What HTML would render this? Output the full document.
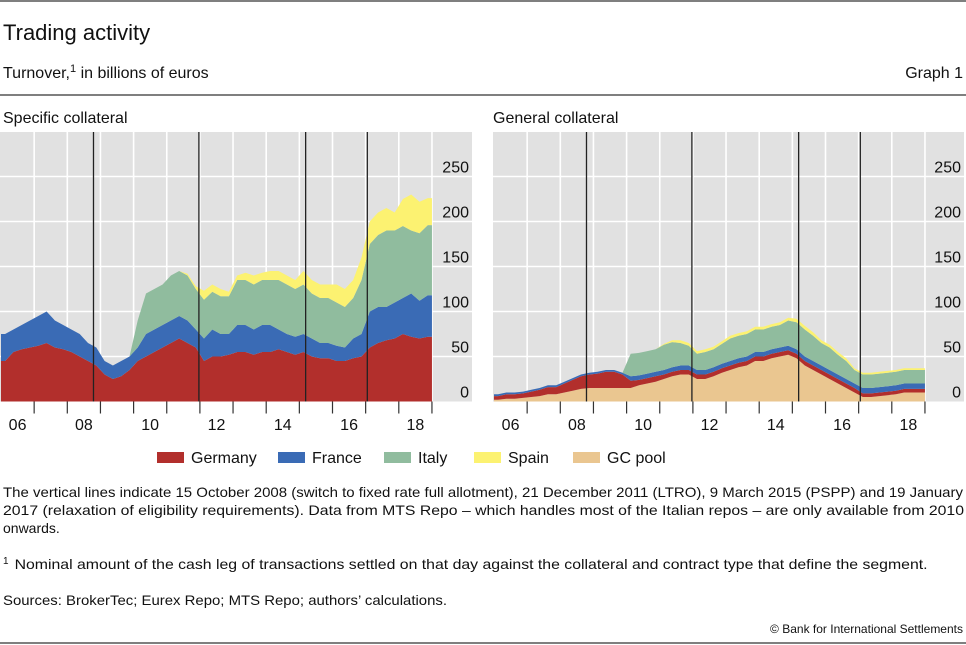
<!DOCTYPE html>
<html><head><meta charset="utf-8"><style>
body{margin:0;background:#fff;}
svg{display:block;font-family:"Liberation Sans",sans-serif;}
</style></head><body>
<svg id="page" width="966" height="645" viewBox="0 0 966 645" xmlns="http://www.w3.org/2000/svg">
<line x1="0" y1="1" x2="966" y2="1" stroke="#333" stroke-width="1.2"/>
<text x="3" y="40" font-size="22" fill="#111">Trading activity</text>
<text x="3" y="78" font-size="16" fill="#111">Turnover,<tspan font-size="11" dy="-6">1</tspan><tspan dy="6"> in billions of euros</tspan></text>
<text x="963" y="78" font-size="16" fill="#111" text-anchor="end">Graph 1</text>
<line x1="0" y1="95" x2="966" y2="95" stroke="#333" stroke-width="1.2"/>
<text x="3" y="123" font-size="16" fill="#111">Specific collateral</text>
<text x="493" y="123" font-size="16" fill="#111">General collateral</text>
<g id="left"></g>
<g id="right"></g>
<g id="legend"></g>
<text x="3" y="497" font-size="14" fill="#111" textLength="960" lengthAdjust="spacingAndGlyphs">The vertical lines indicate 15 October 2008 (switch to fixed rate full allotment), 21 December 2011 (LTRO), 9 March 2015 (PSPP) and 19 January</text>
<text x="3" y="515" font-size="14" fill="#111" textLength="961" lengthAdjust="spacingAndGlyphs">2017 (relaxation of eligibility requirements). Data from MTS Repo – which handles most of the Italian repos – are only available from 2010</text>
<text x="3" y="533" font-size="14" fill="#111">onwards.</text>
<text x="3" y="569" font-size="14" fill="#111"><tspan font-size="10" dy="-5">1</tspan><tspan dx="6" dy="5" textLength="913" lengthAdjust="spacingAndGlyphs">Nominal amount of the cash leg of transactions settled on that day against the collateral and contract type that define the segment.</tspan></text>
<text x="3" y="605" font-size="14" fill="#111" textLength="444" lengthAdjust="spacingAndGlyphs">Sources: BrokerTec; Eurex Repo; MTS Repo; authors’ calculations.</text>
<text x="963" y="633" font-size="12" fill="#111" text-anchor="end">© Bank for International Settlements</text>
<line x1="0" y1="643" x2="966" y2="643" stroke="#333" stroke-width="1.2"/>
</svg>
<script>
// Quarterly values, 2006Q1..2018Q4 (52 points), billions of euros
const quarters = 52;
const yTicks = [0, 50, 100, 150, 200, 250];
const xTickLabels = ['06','08','10','12','14','16','18'];
const eventDates = [2008.79, 2011.97, 2015.19, 2017.05];

const scGermany = [45,55,58,60, 62,65,60,58, 55,50,45,40, 30,25,28,35, 45,50,55,60, 65,70,65,60, 45,50,50,52, 55,55,52,55, 55,58,55,52, 55,50,48,48, 45,45,48,50, 60,65,68,70, 75,72,70,72];
const scFrance  = [30,25,27,30, 33,35,30,27, 25,25,20,20, 15,15,17,15, 15,25,25,25, 25,25,25,20, 25,30,25,23, 30,30,28,30, 30,22,20,20, 20,20,17,17, 17,15,22,25, 40,40,37,40, 40,48,42,46];
const scItaly   = [0,0,0,0, 0,0,0,0, 0,0,0,0, 0,0,0,0, 30,45,45,45, 50,50,50,45, 43,42,42,42, 50,50,50,50, 50,55,55,53, 55,50,50,50, 48,45,45,60, 75,80,85,80, 80,70,75,78];
const scSpain   = [0,0,0,0, 0,0,0,0, 0,0,0,0, 0,0,0,0, 0,0,0,0, 0,0,2,3, 10,8,8,5, 5,8,10,8, 10,10,10,10, 15,15,15,15, 20,20,20,25, 25,25,25,20, 30,40,35,30];

const gcPool    = [2,3,3,4, 5,6,8,8, 10,12,14,15, 15,15,15,15, 15,18,20,22, 25,28,30,30, 25,25,28,32, 35,38,40,45, 45,48,50,52, 48,40,35,30, 25,20,15,10, 5,5,6,7, 8,10,10,10];
const gcGermany = [4,5,5,5, 6,7,8,8, 10,12,14,15, 16,18,18,15, 8,6,6,6, 5,5,5,5, 5,5,5,5, 5,5,5,5, 5,5,5,5, 5,5,5,5, 5,5,5,5, 4,4,4,4, 4,4,4,4];
const gcFrance  = [2,2,2,2, 2,2,2,2, 2,2,2,2, 2,2,2,2, 5,5,5,5, 5,5,5,5, 5,5,5,5, 5,5,5,5, 5,5,5,5, 5,5,5,5, 5,5,5,5, 6,6,6,6, 6,6,6,6];
const gcItaly   = [0,0,0,0, 0,0,0,0, 0,0,0,0, 0,0,0,0, 25,25,25,25, 28,28,25,22, 18,20,20,22, 25,25,25,25, 25,25,25,28, 30,30,28,25, 25,22,20,15, 15,15,15,15, 15,15,15,15];
const gcSpain   = [0,0,0,0, 0,0,0,0, 0,0,0,0, 0,0,0,0, 0,0,0,0, 1,2,3,3, 3,3,3,3, 3,3,3,3, 3,3,3,3, 4,4,4,3, 3,3,3,2, 2,2,2,2, 2,2,2,2];

const COLORS = {germany:'#b22f2c', france:'#3a6bb5', italy:'#90bc9e', spain:'#fcf271', gc:'#eac690'};
const NS = 'http://www.w3.org/2000/svg';
function mk(tag, attrs, parent){const e=document.createElementNS(NS,tag);for(const k in attrs)e.setAttribute(k,attrs[k]);parent.appendChild(e);return e;}

function drawPanel(g, x0, bgRight, series, prefix){
  const yZero = 401.5, per = 0.9; // px per billion
  const yS = v => yZero - v*per;
  const xS = t => x0 + (t-2006)*33.15;
  const top = 132;
  const bg = mk('rect',{x:x0-1,y:top,width:bgRight-(x0-1),height:yZero-top,fill:'#e1e1e1'},g);
  
  
  for(let y=2007;y<=2019;y++){
    const l=mk('line',{x1:xS(y),y1:top,x2:xS(y),y2:yZero,stroke:'#fff','stroke-width':1.6},g);
    
    
  }
  yTicks.forEach(v=>{
    if(v>0){
      const l=mk('line',{x1:x0-1,y1:yS(v),x2:bgRight,y2:yS(v),stroke:'#fff','stroke-width':1.6},g);
      
      
    }
    const t=mk('text',{x:bgRight-3,y:yS(v)-4,'font-size':16,'text-anchor':'end',fill:'#111'},g);
    t.textContent=v;
    
    
  });
  let base = new Array(quarters).fill(0);
  series.forEach(s=>{
    const topv = base.map((b,i)=>b+s.values[i]);
    const ts = i => 2006 + i/4 + 0.125;
    let d = 'M'+xS(2006)+','+yS(topv[0]);
    for(let i=0;i<quarters;i++) d+=' L'+xS(ts(i)).toFixed(1)+','+yS(topv[i]).toFixed(1);
    d+=' L'+xS(2019)+','+yS(topv[quarters-1]);
    d+=' L'+xS(2019)+','+yS(base[quarters-1]);
    for(let i=quarters-1;i>=0;i--) d+=' L'+xS(ts(i)).toFixed(1)+','+yS(base[i]).toFixed(1);
    d+=' L'+xS(2006)+','+yS(base[0])+' Z';
    const p=mk('path',{d:d,fill:s.color},g);
    
    
    base = topv;
  });
  eventDates.forEach(t=>{
    const l=mk('line',{x1:xS(t),y1:top,x2:xS(t),y2:yZero,stroke:'#222','stroke-width':1.3},g);
    
    
  });
  for(let y=2007;y<=2019;y++){
    const l=mk('line',{x1:xS(y),y1:yZero,x2:xS(y),y2:yZero+12,stroke:'#333','stroke-width':1.2},g);
    
    
  }
  xTickLabels.forEach((lab,i)=>{
    const t=mk('text',{x:xS(2006+2*i+0.5),y:430,'font-size':16,'text-anchor':'middle',fill:'#111'},g);
    t.textContent=lab;
    
    
  });
}

drawPanel(document.getElementById('left'), 1, 472, [
  {name:'germany',color:COLORS.germany,values:scGermany},
  {name:'france',color:COLORS.france,values:scFrance},
  {name:'italy',color:COLORS.italy,values:scItaly},
  {name:'spain',color:COLORS.spain,values:scSpain}], 'sc');
drawPanel(document.getElementById('right'), 494, 964, [
  {name:'gc-pool',color:COLORS.gc,values:gcPool},
  {name:'germany',color:COLORS.germany,values:gcGermany},
  {name:'france',color:COLORS.france,values:gcFrance},
  {name:'italy',color:COLORS.italy,values:gcItaly},
  {name:'spain',color:COLORS.spain,values:gcSpain}], 'gc');

const legendItems = [['Germany',COLORS.germany,157],['France',COLORS.france,278],['Italy',COLORS.italy,384],['Spain',COLORS.spain,474],['GC pool',COLORS.gc,573]];
const lg = document.getElementById('legend');
legendItems.forEach(it=>{
  const r=mk('rect',{x:it[2],y:452,width:27,height:11,fill:it[1]},lg);
  
  
  const t=mk('text',{x:it[2]+34,y:463,'font-size':16,fill:'#111'},lg);
  t.textContent=it[0];
  
  
});
</script>
</body></html>
